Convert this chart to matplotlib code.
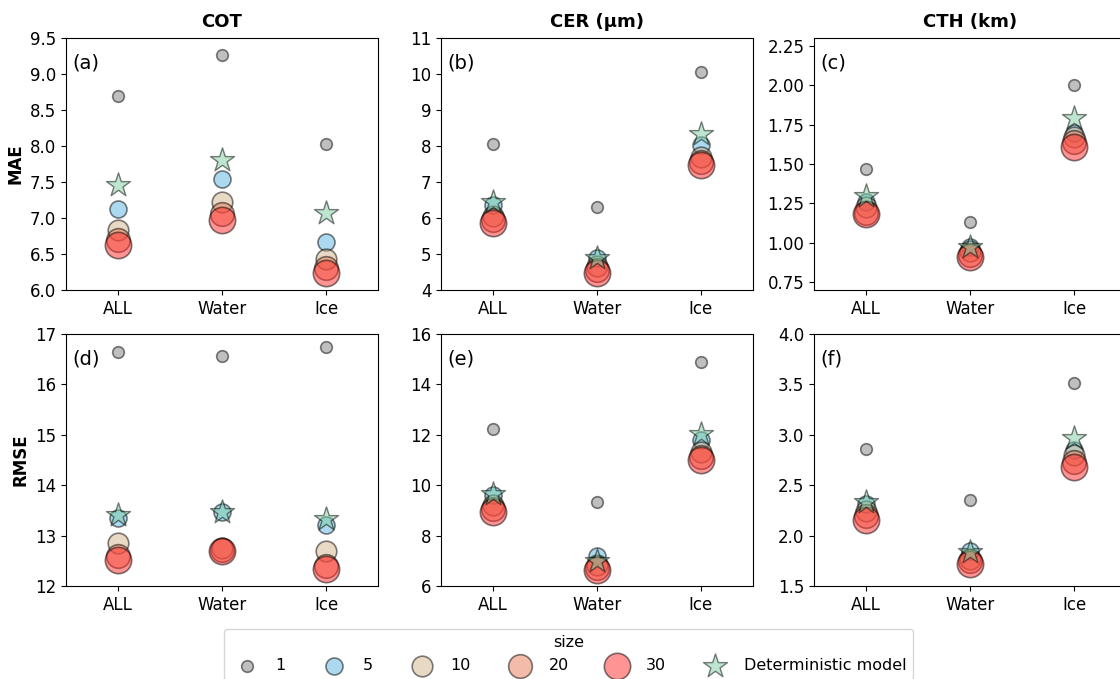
import matplotlib
matplotlib.use("Agg")
import matplotlib.pyplot as plt
from matplotlib.ticker import MultipleLocator, FormatStrFormatter

groups = ["ALL", "Water", "Ice"]
sizes = [1, 5, 10, 20, 30]

# rows: ensemble size (1, 5, 10, 20, 30), cols: ALL / Water / Ice
cot_mae = [[8.69, 9.27, 8.03],
           [7.13, 7.54, 6.67],
           [6.84, 7.22, 6.43],
           [6.70, 7.06, 6.31],
           [6.63, 6.97, 6.24]]
cot_mae_det = [7.46, 7.80, 7.07]

cer_mae = [[8.06, 6.30, 10.06],
           [6.36, 4.90, 8.03],
           [6.05, 4.66, 7.70],
           [5.94, 4.55, 7.56],
           [5.86, 4.46, 7.47]]
cer_mae_det = [6.45, 4.88, 8.33]

cth_mae = [[1.47, 1.13, 2.00],
           [1.26, 0.97, 1.70],
           [1.23, 0.95, 1.67],
           [1.19, 0.925, 1.64],
           [1.18, 0.91, 1.61]]
cth_mae_det = [1.30, 0.975, 1.79]

cot_rmse = [[16.64, 16.57, 16.74],
            [13.35, 13.46, 13.21],
            [12.86, 12.76, 12.69],
            [12.60, 12.71, 12.40],
            [12.52, 12.70, 12.33]]
cot_rmse_det = [13.40, 13.47, 13.32]

cer_rmse = [[12.25, 9.33, 14.90],
            [9.62, 7.18, 11.79],
            [9.20, 6.82, 11.32],
            [9.05, 6.72, 11.12],
            [8.93, 6.62, 10.99]]
cer_rmse_det = [9.66, 6.98, 12.02]

cth_rmse = [[2.86, 2.35, 3.51],
            [2.31, 1.85, 2.85],
            [2.24, 1.77, 2.80],
            [2.19, 1.75, 2.73],
            [2.15, 1.72, 2.68]]
cth_rmse_det = [2.33, 1.84, 2.97]

colors = ["gray", "#5ab4e0", "tan", "#e97955", "#ff2a2a"]
msizes = [70, 150, 220, 290, 360]

panels = [
    (cot_mae, cot_mae_det, (6.0, 9.5), 0.5, "%.1f", "(a)"),
    (cer_mae, cer_mae_det, (4, 11), 1, "%d", "(b)"),
    (cth_mae, cth_mae_det, (0.7, 2.3), 0.25, "%.2f", "(c)"),
    (cot_rmse, cot_rmse_det, (12, 17), 1, "%d", "(d)"),
    (cer_rmse, cer_rmse_det, (6, 16), 2, "%d", "(e)"),
    (cth_rmse, cth_rmse_det, (1.5, 4.0), 0.5, "%.1f", "(f)"),
]
titles = ["COT", "CER (\u00b5m)", "CTH (km)"]
row_labels = ["MAE", "RMSE"]

fig = plt.figure(figsize=(11.2, 6.79), dpi=100)
W, H = 1120, 679
lefts = [66, 441, 814]
tops = [38, 334]
aw, ah = 312, 252

x = list(range(len(groups)))
for k, (vals, det, ylim, step, fmt, tag) in enumerate(panels):
    r, c = divmod(k, 3)
    ax = fig.add_axes([lefts[c] / W, 1 - (tops[r] + ah) / H, aw / W, ah / H])
    for i, s in enumerate(sizes):
        ax.scatter(x, vals[i], s=msizes[i], color=colors[i], alpha=0.5,
                   edgecolors="k", linewidths=1.2, label=str(s), zorder=2 + i)
    ax.scatter(x, det, s=330, marker="*", color="#7dcda1", alpha=0.5,
               edgecolors="k", linewidths=1.0, label="Deterministic model", zorder=10)
    ax.set_xlim(-0.5, 2.5)
    ax.set_ylim(*ylim)
    ax.set_xticks(x)
    ax.set_xticklabels(groups)
    ax.yaxis.set_major_locator(MultipleLocator(step))
    ax.yaxis.set_major_formatter(FormatStrFormatter(fmt))
    ax.tick_params(labelsize=12)
    ax.text(0.022, 0.94, tag, transform=ax.transAxes, fontsize=14, va="top")
    if r == 0:
        ax.set_title(titles[c], fontsize=13, fontweight="bold", pad=8)
    if c == 0:
        ax.set_ylabel(row_labels[r], fontsize=12, fontweight="bold")
    if k == 0:
        handles, labels = ax.get_legend_handles_labels()

# shared legend under the panels
fig.legend(handles, labels, loc="upper center", bbox_to_anchor=(0.5076, 0.0736),
           borderaxespad=0, ncol=6, title="size", fontsize=11.5, title_fontsize=11.5,
           markerscale=1.0, labelspacing=0.5, columnspacing=2.05)

fig.savefig("out.png", dpi=100)
